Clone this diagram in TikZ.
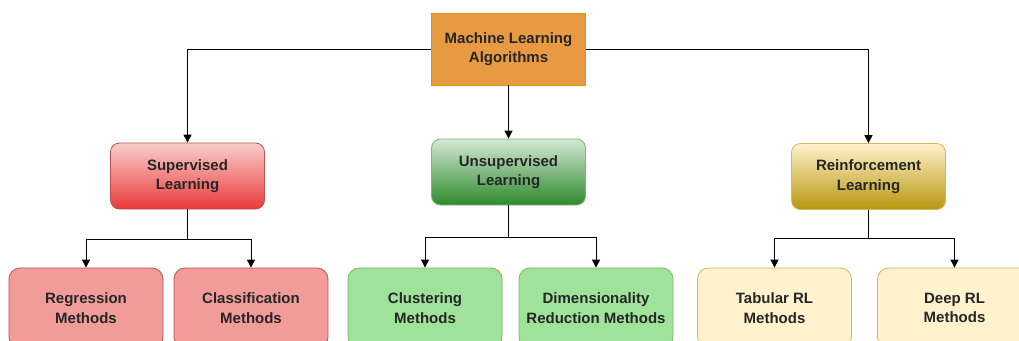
\documentclass[tikz,border=0pt]{standalone}
\usepackage{fontspec}
\setmainfont{Liberation Sans}
\usetikzlibrary{arrows.meta}
\definecolor{txt}{HTML}{262626}
\definecolor{rootfill}{HTML}{E89A43}
\definecolor{rootdraw}{HTML}{D79B00}
\definecolor{redtop}{HTML}{F8CECC}
\definecolor{redbot}{HTML}{EA3A3A}
\definecolor{reddraw}{HTML}{B85450}
\definecolor{redleaf}{HTML}{F19C99}
\definecolor{greentop}{HTML}{D5E8D4}
\definecolor{greenbot}{HTML}{2D8A2D}
\definecolor{greendraw}{HTML}{82B366}
\definecolor{greenleaf}{HTML}{9EE399}
\definecolor{yeltop}{HTML}{FFF2CC}
\definecolor{yelbot}{HTML}{B8960E}
\definecolor{yeldraw}{HTML}{D6B656}
\definecolor{yelleaf}{HTML}{FFF2CC}
\tikzset{
  box/.style={minimum width=154pt, minimum height=66pt, inner sep=0pt, align=center,
    font=\fontsize{15}{19.5}\selectfont\bfseries, text=txt, line width=0.8pt},
  rootbox/.style={box, rectangle, fill=rootfill, draw=rootdraw, minimum height=72pt},
  midbox/.style={box, rounded corners=9pt},
  leafbox/.style={box, rounded corners=11pt, minimum height=80pt},
  conn/.style={draw=black, line width=1pt},
  arr/.style={conn, -{Triangle[length=8pt,width=8pt]}}
}
\begin{document}
\begin{tikzpicture}[x=1pt,y=-1pt]
\useasboundingbox (0,0) rectangle (1019,340);
\clip (0,0) rectangle (1019,340);
\fill[white] (0,0) rectangle (1019,340);
\node[rootbox] (ml) at (508.5,49) {Machine Learning\\Algorithms};
\node[midbox, top color=redtop, bottom color=redbot, draw=reddraw] (sup) at (187.5,176) {Supervised\\Learning};
\node[midbox, top color=greentop, bottom color=greenbot, draw=greendraw] (uns) at (508.5,172) {Unsupervised\\Learning};
\node[midbox, top color=yeltop, bottom color=yelbot, draw=yeldraw] (rl) at (868.5,176.5) {Reinforcement\\Learning};
\node[leafbox, fill=redleaf, draw=reddraw] (reg) at (86,308) {Regression\\Methods};
\node[leafbox, fill=redleaf, draw=reddraw] (cls) at (251,308) {Classification\\Methods};
\node[leafbox, fill=greenleaf, draw=greendraw] (clu) at (425,308) {Clustering\\Methods};
\node[leafbox, fill=greenleaf, draw=greendraw] (dim) at (596,308) {Dimensionality\\Reduction Methods};
\node[leafbox, fill=yelleaf, draw=yeldraw] (tab) at (774.5,308) {Tabular RL\\Methods};
\node[leafbox, fill=yelleaf, draw=yeldraw] (deep) at (954.5,308) {Deep RL\\Methods};
% top connectors
\draw[arr] (ml.west) -| (sup.north);
\draw[arr] (ml.east) -| (rl.north);
\draw[arr] (ml.south) -- (uns.north);
% supervised
\coordinate (sj) at (187.5,239);
\draw[conn] (sup.south) -- (sj);
\draw[arr] (sj) -| (reg.north);
\draw[arr] (sj) -| (cls.north);
% unsupervised
\coordinate (uj) at (508.5,237);
\draw[conn] (uns.south) -- (uj);
\draw[arr] (uj) -| (clu.north);
\draw[arr] (uj) -| (dim.north);
% reinforcement
\coordinate (rj) at (868.5,238);
\draw[conn] (rl.south) -- (rj);
\draw[arr] (rj) -| (tab.north);
\draw[arr] (rj) -| (deep.north);
\end{tikzpicture}
\end{document}
